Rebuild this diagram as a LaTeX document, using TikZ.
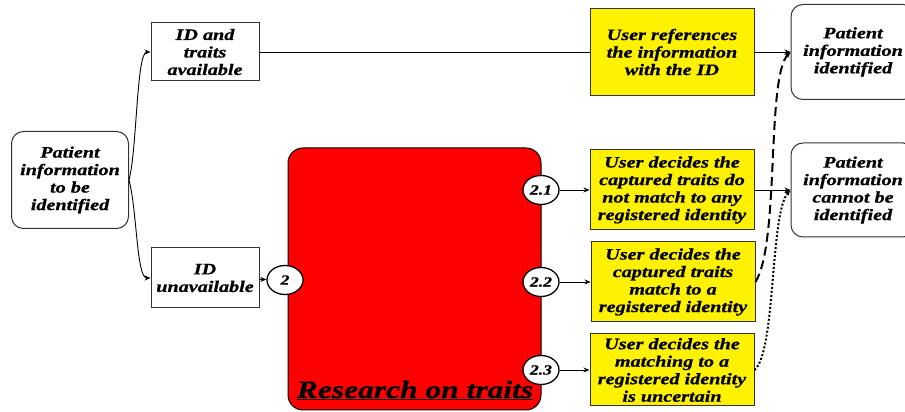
\documentclass[tikz,border=0pt]{standalone}
\usepackage{fontspec}
\setmainfont{Liberation Serif}[FakeStretch=1.26, BoldItalicFeatures={FakeBold=0.8}]
\usetikzlibrary{positioning, shapes.geometric, arrows.meta, calc}

\begin{document}
\begin{tikzpicture}[
      x=1pt, y=1pt,
      >={Stealth[length=6pt, width=5pt]},
      every node/.style={font=\fontsize{16}{17.5}\selectfont\bfseries\itshape, align=center},
      state/.style={draw=black!80, line width=1pt, rounded corners=12pt, fill=white, minimum width=117pt, inner sep=2pt},
      choice/.style={draw=black!80, line width=1pt, fill=white, minimum width=108pt, inner sep=2pt},
      action/.style={draw=black!80, line width=1pt, fill=yellow, minimum width=164pt, inner sep=2pt},
      port/.style={ellipse, draw=black, line width=1.3pt, fill=white, minimum width=36pt, minimum height=29pt, inner sep=0pt, font=\fontsize{14}{14}\selectfont\bfseries\itshape},
      flow/.style={->, line width=0.9pt}
    ]

    \useasboundingbox (0,0) rectangle (905,412);

    % Starting point
    \node[state, minimum height=97pt] (pat) at (70,232) {Patient\\information\\to be\\identified};

    % Branches
    \node[choice, minimum height=58pt] (idt) at (205,360) {ID and\\traits\\available};
    \node[choice, minimum height=60pt] (idu) at (205,134) {ID\\unavailable};

    % Research block
    \node[draw=black, line width=1pt, fill=red, rounded corners=15pt, minimum width=253pt, minimum height=262pt] (res) at (414.5,133) {};
    \node[anchor=base, font=\fontsize{25}{25}\selectfont\bfseries\itshape] (restitle) at (415,14) {\underline{Research on traits}};

    % Ports
    \node[port] (p2) at (285,132) {2};
    \node[port] (p21) at (541,222) {2.1};
    \node[port] (p22) at (541,130) {2.2};
    \node[port] (p23) at (541,42) {2.3};

    % User actions
    \node[action, minimum height=87pt] (ref) at (672,360) {User references\\the information\\with the ID};
    \node[action, minimum height=80pt] (m1) at (672,222) {User decides the\\captured traits do\\not match to any\\registered identity};
    \node[action, minimum height=80pt] (m2) at (673,130) {User decides the\\captured traits\\match to a\\registered identity};
    \node[action, minimum height=72pt] (m3) at (672,42) {User decides the\\matching to a\\registered identity\\is uncertain};

    % Outcomes (right side runs past the edge)
    \node[state, minimum width=124pt, minimum height=95pt] (ok) at (853,360) {Patient\\information\\identified};
    \node[state, minimum width=124pt, minimum height=94pt] (fail) at (853,222) {Patient\\information\\cannot be\\identified};

    % Arrows from start to branches
    \draw[flow] (pat.east) .. controls +(8,30) and +(-14,0) .. (idt.west);
    \draw[flow] (pat.east) .. controls +(8,-30) and +(-14,0) .. (idu.west);

    % Direct path with the ID
    \draw[line width=0.9pt] (idt) -- (ref);
    \draw[flow] (ref) -- (ok);

    % Research on traits
    \draw[flow] (idu) -- (p2);
    \draw[flow] (p21) -- (m1);
    \draw[flow] (p22) -- (m2);
    \draw[flow] (p23) -- (m3);

    % Results of the research
    \draw[flow] (m1) -- (fail);
    \draw[flow, line width=2pt, dash pattern=on 9pt off 5pt] (m2.east) .. controls (780,170) and (766,335) .. (ok.west);
    \draw[flow, line width=2pt, dash pattern=on 2pt off 2pt] (m3.east) .. controls (776,60) and (770,200) .. (fail.west);

  \end{tikzpicture}
\end{document}
